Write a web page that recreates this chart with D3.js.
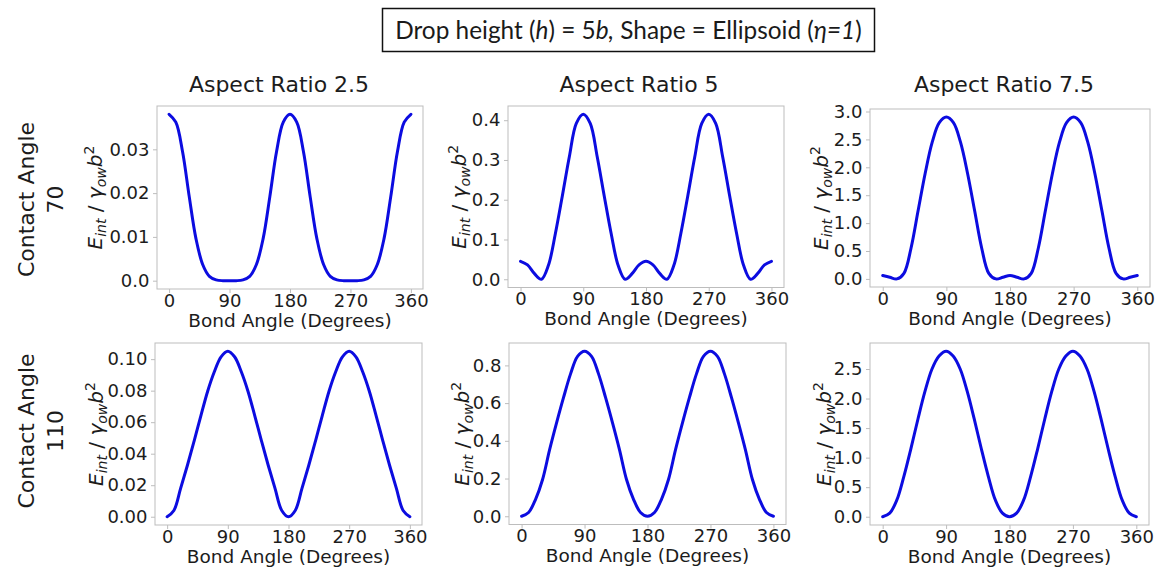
<!DOCTYPE html>
<html>
<head>
<meta charset="utf-8">
<script src="https://cdn.jsdelivr.net/npm/d3@7"></script>
<style>
  body { margin: 0; background: #fff; }
  svg { display: block; }
</style>
</head>
<body>
<svg id="chart" width="1155" height="567"></svg>
<script>
// ---- data -------------------------------------------------------------
const bondAngles = [0, 10, 20, 30, 40, 50, 60, 70, 80, 90, 100, 110, 120, 130, 140, 150, 160, 170, 180,
                    190, 200, 210, 220, 230, 240, 250, 260, 270, 280, 290, 300, 310, 320, 330, 340, 350, 360];

const xTicks = [0, 90, 180, 270, 360];
const aspectRatios = ["2.5", "5", "7.5"];
const contactAngles = ["70", "110"];

// interaction energy E_int / (gamma_ow b^2) versus bond angle
const energyCA70AR25 = [0.0380, 0.0362, 0.0295, 0.0192, 0.0096, 0.0037, 0.0010, 0.0002, 0.0000, 0.0000,
                        0.0000, 0.0002, 0.0010, 0.0037, 0.0096, 0.0192, 0.0295, 0.0362, 0.0380,
                        0.0362, 0.0295, 0.0192, 0.0096, 0.0037, 0.0010, 0.0002, 0.0000, 0.0000,
                        0.0000, 0.0002, 0.0010, 0.0037, 0.0096, 0.0192, 0.0295, 0.0362, 0.0380];
const energyCA70AR5 = [0.045, 0.036, 0.014, 0.000, 0.035, 0.115, 0.210, 0.308, 0.392, 0.415,
                       0.392, 0.308, 0.210, 0.115, 0.035, 0.000, 0.014, 0.036, 0.045,
                       0.036, 0.014, 0.000, 0.035, 0.115, 0.210, 0.308, 0.392, 0.415,
                       0.392, 0.308, 0.210, 0.115, 0.035, 0.000, 0.014, 0.036, 0.045];
const energyCA70AR75 = [0.06, 0.03, 0.00, 0.10, 0.55, 1.22, 1.89, 2.45, 2.80, 2.90,
                        2.80, 2.45, 1.89, 1.22, 0.55, 0.10, 0.00, 0.03, 0.06,
                        0.03, 0.00, 0.10, 0.55, 1.22, 1.89, 2.45, 2.80, 2.90,
                        2.80, 2.45, 1.89, 1.22, 0.55, 0.10, 0.00, 0.03, 0.06];
const energyCA110AR25 = [0.000, 0.004, 0.018, 0.0325, 0.048, 0.064, 0.0795, 0.092, 0.1015, 0.105,
                         0.1015, 0.092, 0.0795, 0.064, 0.048, 0.0325, 0.018, 0.004, 0.000,
                         0.004, 0.018, 0.0325, 0.048, 0.064, 0.0795, 0.092, 0.1015, 0.105,
                         0.1015, 0.092, 0.0795, 0.064, 0.048, 0.0325, 0.018, 0.004, 0.000];
const energyCA110AR5 = [0.000, 0.020, 0.090, 0.195, 0.352, 0.495, 0.630, 0.755, 0.848, 0.875,
                        0.848, 0.755, 0.630, 0.495, 0.352, 0.195, 0.090, 0.020, 0.000,
                        0.020, 0.090, 0.195, 0.352, 0.495, 0.630, 0.755, 0.848, 0.875,
                        0.848, 0.755, 0.630, 0.495, 0.352, 0.195, 0.090, 0.020, 0.000];
const energyCA110AR75 = [0.00, 0.06, 0.28, 0.68, 1.15, 1.65, 2.12, 2.50, 2.72, 2.80,
                         2.72, 2.50, 2.12, 1.65, 1.15, 0.68, 0.28, 0.06, 0.00,
                         0.06, 0.28, 0.68, 1.15, 1.65, 2.12, 2.50, 2.72, 2.80,
                         2.72, 2.50, 2.12, 1.65, 1.15, 0.68, 0.28, 0.06, 0.00];

// y tick values and their printed labels
const yTicksCA70AR25 = [0, 0.01, 0.02, 0.03];
const yLabelsCA70AR25 = ["0.0", "0.01", "0.02", "0.03"];
const yTicksCA70AR5 = [0, 0.1, 0.2, 0.3, 0.4];
const yLabelsCA70AR5 = ["0.0", "0.1", "0.2", "0.3", "0.4"];
const yTicksCA70AR75 = [0, 0.5, 1.0, 1.5, 2.0, 2.5, 3.0];
const yLabelsCA70AR75 = ["0.0", "0.5", "1.0", "1.5", "2.0", "2.5", "3.0"];
const yTicksCA110AR25 = [0, 0.02, 0.04, 0.06, 0.08, 0.10];
const yLabelsCA110AR25 = ["0.00", "0.02", "0.04", "0.06", "0.08", "0.10"];
const yTicksCA110AR5 = [0, 0.2, 0.4, 0.6, 0.8];
const yLabelsCA110AR5 = ["0.0", "0.2", "0.4", "0.6", "0.8"];
const yTicksCA110AR75 = [0, 0.5, 1.0, 1.5, 2.0, 2.5];
const yLabelsCA110AR75 = ["0.0", "0.5", "1.0", "1.5", "2.0", "2.5"];

// ---- panel layout (axes box in px, y-label baseline x) -------------------
const panels = [
  { row: 0, col: 0, values: energyCA70AR25,  ticks: yTicksCA70AR25,  labels: yLabelsCA70AR25,  box: [157, 106, 423, 289],   ylabX: 102 },
  { row: 0, col: 1, values: energyCA70AR5,   ticks: yTicksCA70AR5,   labels: yLabelsCA70AR5,   box: [508, 106, 784, 287.5], ylabX: 466 },
  { row: 0, col: 2, values: energyCA70AR75,  ticks: yTicksCA70AR75,  labels: yLabelsCA70AR75,  box: [870, 109, 1150, 287],  ylabX: 828 },
  { row: 1, col: 0, values: energyCA110AR25, ticks: yTicksCA110AR25, labels: yLabelsCA110AR25, box: [155, 343, 422, 525],   ylabX: 103 },
  { row: 1, col: 1, values: energyCA110AR5,  ticks: yTicksCA110AR5,  labels: yLabelsCA110AR5,  box: [509, 343, 786, 524.5], ylabX: 469 },
  { row: 1, col: 2, values: energyCA110AR75, ticks: yTicksCA110AR75, labels: yLabelsCA110AR75, box: [870, 343, 1149, 525],  ylabX: 831 }
];
const titleCenters = [279, 639, 1004];
const titleBaseline = 92;
const rowCenters = [199.5, 431];

const FONT = "'DejaVu Sans', sans-serif";
const LINE_COLOR = "#0c0ce0";
const SPINE_COLOR = "#bdbdbd";
const TEXT_COLOR = "#1c1c1c";

const svg = d3.select("#chart");

// ---- header box ----------------------------------------------------------
const header = svg.append("g");
header.append("rect")
  .attr("x", 382.5).attr("y", 8.5).attr("width", 492).attr("height", 43)
  .attr("fill", "#fff").attr("stroke", "#111").attr("stroke-width", 1.5);
const headerText = header.append("text")
  .attr("x", 628.5).attr("y", 39.3)
  .attr("text-anchor", "middle")
  .attr("font-family", "Lato, 'Open Sans', sans-serif")
  .attr("font-size", 22)
  .attr("fill", "#1a1a1a");
[
  ["Drop height (", false], ["h", true], [") = 5", false], ["b,", true],
  [" Shape = Ellipsoid (", false], ["\u03b7=1", true], [")", false]
].forEach(([t, it]) => {
  headerText.append("tspan").attr("font-style", it ? "italic" : "normal").text(t);
});
// fit the header text to the box width
{
  const w = headerText.node().getComputedTextLength();
  const target = 467;
  headerText.attr("font-size", 22 * target / w);
}

// ---- column titles -------------------------------------------------------
aspectRatios.forEach((ar, i) => {
  svg.append("text")
    .attr("x", titleCenters[i]).attr("y", titleBaseline)
    .attr("text-anchor", "middle")
    .attr("font-family", FONT).attr("font-size", 22)
    .attr("fill", TEXT_COLOR)
    .text("Aspect Ratio " + ar);
});

// ---- row labels ----------------------------------------------------------
contactAngles.forEach((ca, i) => {
  const g = svg.append("g").attr("transform", `translate(0,${rowCenters[i]}) rotate(-90)`);
  g.append("text").attr("x", 0).attr("y", 34)
    .attr("text-anchor", "middle").attr("font-family", FONT).attr("font-size", 22)
    .attr("fill", TEXT_COLOR).text("Contact Angle");
  g.append("text").attr("x", 0).attr("y", 63)
    .attr("text-anchor", "middle").attr("font-family", FONT).attr("font-size", 22)
    .attr("fill", TEXT_COLOR).text(ca);
});

// ---- panels --------------------------------------------------------------
panels.forEach(p => {
  const [x0, y0, x1, y1] = p.box;
  const [vmin, vmax] = d3.extent(p.values);
  const pad = 0.05 * (vmax - vmin);

  const x = d3.scaleLinear().domain([-18, 378]).range([x0, x1]);
  const y = d3.scaleLinear().domain([vmin - pad, vmax + pad]).range([y1, y0]);

  const g = svg.append("g");

  // axes frame
  g.append("rect")
    .attr("x", x0).attr("y", y0).attr("width", x1 - x0).attr("height", y1 - y0)
    .attr("fill", "#fff").attr("stroke", SPINE_COLOR).attr("stroke-width", 1);

  // curve
  const line = d3.line()
    .x((d, i) => x(bondAngles[i]))
    .y(d => y(d))
    .curve(d3.curveCatmullRom.alpha(0.5));
  g.append("path")
    .datum(p.values)
    .attr("d", line)
    .attr("fill", "none")
    .attr("stroke", LINE_COLOR)
    .attr("stroke-width", 3)
    .attr("stroke-linejoin", "round")
    .attr("stroke-linecap", "round");

  // x axis
  const xa = g.append("g")
    .attr("transform", `translate(0,${y1})`)
    .call(d3.axisBottom(x).tickValues(xTicks).tickFormat(d3.format("d")).tickSize(4).tickPadding(1));
  // y axis
  const ya = g.append("g")
    .attr("transform", `translate(${x0},0)`)
    .call(d3.axisLeft(y).tickValues(p.ticks).tickFormat((d, i) => p.labels[i]).tickSize(4).tickPadding(3.5));

  [xa, ya].forEach(a => {
    a.select(".domain").remove();
    a.selectAll(".tick line").attr("stroke", SPINE_COLOR).attr("stroke-width", 1);
    a.selectAll(".tick text")
      .attr("font-family", FONT).attr("font-size", 18).attr("fill", TEXT_COLOR);
  });

  // x label
  g.append("text")
    .attr("x", (x0 + x1) / 2).attr("y", y1 + 37.7)
    .attr("text-anchor", "middle")
    .attr("font-family", FONT).attr("font-size", 18.5)
    .attr("fill", TEXT_COLOR)
    .text("Bond Angle (Degrees)");

  // y label: E_int / gamma_ow b^2
  const yl = g.append("g")
    .attr("transform", `translate(0,${(y0 + y1) / 2}) rotate(-90)`)
    .append("text")
    .attr("x", 0).attr("y", p.ylabX)
    .attr("text-anchor", "middle")
    .attr("font-family", FONT).attr("font-size", 20)
    .attr("fill", TEXT_COLOR);
  yl.append("tspan").attr("font-style", "italic").text("E");
  yl.append("tspan").attr("font-style", "italic").attr("font-size", 14).attr("dy", 4).text("int");
  yl.append("tspan").attr("dy", -4).text(" / ");
  yl.append("tspan").attr("font-style", "italic").text("\u03b3");
  yl.append("tspan").attr("font-style", "italic").attr("font-size", 14).attr("dy", 4).text("ow");
  yl.append("tspan").attr("font-style", "italic").attr("dy", -4).text("b");
  yl.append("tspan").attr("font-size", 14).attr("dy", -8).text("2");
});
</script>
</body>
</html>
